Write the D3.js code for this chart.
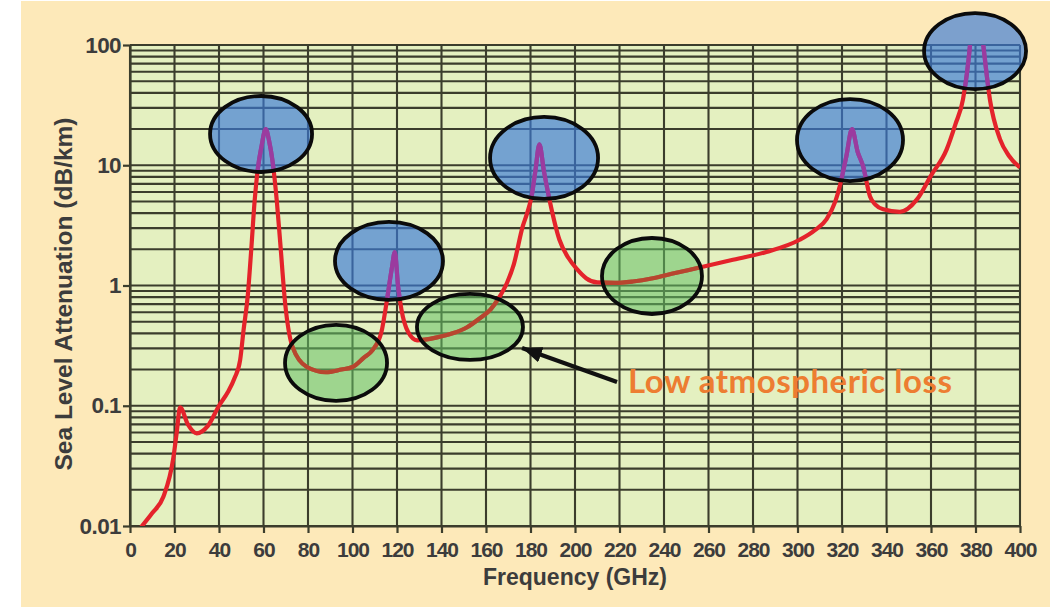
<!DOCTYPE html>
<html>
<head>
<meta charset="utf-8">
<script src="https://cdn.jsdelivr.net/npm/d3@7"></script>
<style>
  html, body { margin: 0; padding: 0; background: #fff; }
  svg { display: block; }
</style>
</head>
<body>
<svg id="chart" width="1050" height="607"></svg>
<script>
// ─── Data ─────────────────────────────────────────────────────────────────────

// Sea level attenuation curve (GHz, dB/km)
const FREQ = [5, 10, 15, 19.5, 21, 22.5, 26, 30, 35, 40,
  44, 47, 49.5, 51, 53, 54.5, 56, 57.5, 59, 61, 62.5,
  64, 66, 67.5, 69.7, 73, 79.5, 88, 95, 100, 105,
  109, 113, 115.5, 117.7, 119, 120.5, 122, 125, 129, 138,
  145, 151.5, 157, 162, 166, 169.5, 172.5, 176.5, 178.5, 180.5,
  182.2, 184, 186, 188.8, 193, 197, 201, 205, 210, 218,
  226, 235, 245, 256, 270, 286, 301, 308, 313, 317,
  319, 322, 324.5, 327, 329.5, 332.6, 335, 338.5, 346, 353.7,
  360, 367, 371, 374.4, 377.5, 380, 383.5, 386.5, 391, 395,
  400];
const ATTEN = [0.0098, 0.0128, 0.0175, 0.037, 0.06, 0.097, 0.07, 0.059, 0.068, 0.1,
  0.13, 0.17, 0.24, 0.42, 0.85, 2.0, 5.0, 9.5, 14, 20, 16,
  11, 5, 2.3, 0.72, 0.31, 0.21, 0.19, 0.2, 0.21, 0.25,
  0.29, 0.41, 0.76, 1.4, 1.9, 0.98, 0.63, 0.41, 0.35, 0.37,
  0.4, 0.45, 0.53, 0.63, 0.8, 1.06, 1.5, 3.1, 4.0, 5.5,
  9, 14.9, 9, 4.9, 2.4, 1.7, 1.36, 1.15, 1.06, 1.05,
  1.08, 1.15, 1.27, 1.41, 1.62, 1.9, 2.4, 2.9, 3.55, 5,
  6.7, 12, 20, 13, 9.8, 5.5, 4.7, 4.3, 4.1, 5.2,
  8.2, 13.5, 22, 35.5, 98, 400, 100, 35, 16.5, 12,
  9.6];

const X_TICKS       = [0, 20, 40, 60, 80, 100, 120, 140, 160, 180, 200,
                       220, 240, 260, 280, 300, 320, 340, 360, 380, 400];
const Y_TICKS       = [0.01, 0.1, 1, 10, 100];
const Y_TICK_LABELS = ["0.01", "0.1", "1", "10", "100"];

// Ring centres (GHz, dB/km)
const PEAK_RINGS   = [[58.9, 18.2], [116.4, 1.6], [186.1, 11.5], [323.6, 16.2], [379.8, 89]];
const WINDOW_RINGS = [[92.6, 0.227], [152.8, 0.452], [234.6, 1.2]];

const NOTE_TEXT  = "Low atmospheric loss";
const NOTE_AT    = [223.8, 0.1276];
const ARROW_FROM = [218.9, 0.1575];
const ARROW_TO   = [176.2, 0.302];

const X_TITLE = "Frequency (GHz)";
const Y_TITLE = "Sea Level Attenuation (dB/km)";

// ─── Layout ───────────────────────────────────────────────────────────────────

const W = 1050, H = 607;
const P = { left: 130, right: 1020, top: 45, bottom: 526 };
const PEAK_SIZES   = [[51, 38], [54, 39], [54, 41], [53, 41], [51, 38]];
const WINDOW_SIZES = [[51, 38], [53, 33], [50, 38]];
const GRID = "#3b3d2c";
const INK  = "#3c3c3c";
const FONT = '"Liberation Sans", Arial, Helvetica, sans-serif';

// ─── Draw ─────────────────────────────────────────────────────────────────────

const svg = d3.select("#chart");
const defs = svg.append("defs");

const x = d3.scaleLinear().domain([0, 400]).range([P.left, P.right]);
const y = d3.scaleLog().domain([0.01, 100]).range([P.bottom, P.top]);

// page + plot backgrounds
svg.append("rect").attr("x", 21).attr("y", 1).attr("width", W - 21).attr("height", H - 1)
  .attr("fill", "#fde9b9");
svg.append("rect").attr("x", P.left).attr("y", P.top)
  .attr("width", P.right - P.left).attr("height", P.bottom - P.top)
  .attr("fill", "#e4f0c0");

// grid
const grid = svg.append("g").attr("stroke", GRID).attr("stroke-width", 2.1);
grid.selectAll("line.h").data(y.ticks()).join("line").attr("class", "h")
  .attr("x1", P.left).attr("x2", P.right)
  .attr("y1", d => y(d)).attr("y2", d => y(d));
grid.selectAll("line.v").data(X_TICKS).join("line").attr("class", "v")
  .attr("x1", d => x(d)).attr("x2", d => x(d))
  .attr("y1", P.top).attr("y2", P.bottom);

// axes
const xAxis = svg.append("g").attr("transform", `translate(0,${P.bottom})`)
  .call(d3.axisBottom(x).tickValues(X_TICKS).tickSize(7).tickPadding(9).tickSizeOuter(0));
const yAxis = svg.append("g").attr("transform", `translate(${P.left},0)`)
  .call(d3.axisLeft(y).tickValues(Y_TICKS).tickFormat((d, i) => Y_TICK_LABELS[i])
    .tickSize(7).tickPadding(2).tickSizeOuter(0));

[xAxis, yAxis].forEach(g => {
  g.selectAll("line, path").attr("stroke", GRID).attr("stroke-width", 2.2);
  g.selectAll("text").attr("fill", INK).attr("font-family", FONT).attr("font-weight", 700);
});
xAxis.selectAll("text").attr("font-size", 21).attr("letter-spacing", -1);
yAxis.selectAll("text").attr("font-size", 22.5).attr("letter-spacing", -0.6);

// axis titles
svg.append("text").attr("x", (P.left + P.right) / 2).attr("y", 585)
  .attr("text-anchor", "middle").attr("font-family", FONT).attr("font-size", 23)
  .attr("font-weight", 700).attr("fill", INK)
  .text(X_TITLE);
svg.append("text").attr("transform", "translate(72,294) rotate(-90)")
  .attr("text-anchor", "middle").attr("font-family", FONT).attr("font-size", 24.5)
  .attr("font-weight", 700).attr("fill", INK)
  .text(Y_TITLE);

// curve
const pts  = FREQ.map((f, i) => [f, ATTEN[i]]);
const line = d3.line().x(d => x(d[0])).y(d => y(d[1])).curve(d3.curveMonotoneX);

defs.append("clipPath").attr("id", "plot-clip").append("rect")
  .attr("x", P.left).attr("y", P.top)
  .attr("width", P.right - P.left).attr("height", P.bottom - P.top);

const curveLayer = svg.append("g").attr("clip-path", "url(#plot-clip)");
curveLayer.append("path").attr("d", line(pts))
  .attr("fill", "none").attr("stroke", "#e4232b").attr("stroke-width", 4.2)
  .attr("stroke-linejoin", "round");

// rings
function ringData(centres, sizes) {
  return centres.map((c, i) => ({ cx: x(c[0]), cy: y(c[1]), rx: sizes[i][0], ry: sizes[i][1] }));
}
const peaks   = ringData(PEAK_RINGS, PEAK_SIZES);
const windows = ringData(WINDOW_RINGS, WINDOW_SIZES);

function drawRings(data, fill, opacity) {
  svg.append("g").selectAll("ellipse").data(data).join("ellipse")
    .attr("cx", d => d.cx).attr("cy", d => d.cy).attr("rx", d => d.rx).attr("ry", d => d.ry)
    .attr("fill", fill).attr("fill-opacity", opacity);
}
drawRings(peaks, "rgb(58,122,215)", 0.66);
drawRings(windows, "rgb(100,192,100)", 0.55);

// curve tinted inside the rings
function tintedCurve(id, data, colour) {
  defs.append("clipPath").attr("id", id).selectAll("ellipse").data(data).join("ellipse")
    .attr("cx", d => d.cx).attr("cy", d => d.cy).attr("rx", d => d.rx).attr("ry", d => d.ry);
  svg.append("g").attr("clip-path", "url(#plot-clip)")
    .append("g").attr("clip-path", `url(#${id})`)
    .append("path").attr("d", line(pts))
    .attr("fill", "none").attr("stroke", colour).attr("stroke-width", 4.2)
    .attr("stroke-linejoin", "round");
}
tintedCurve("peak-clip", peaks, "#9b3b9f");
tintedCurve("window-clip", windows, "#b8452f");

// ring outlines
svg.append("g").selectAll("ellipse").data(peaks.concat(windows)).join("ellipse")
  .attr("cx", d => d.cx).attr("cy", d => d.cy).attr("rx", d => d.rx).attr("ry", d => d.ry)
  .attr("fill", "none").attr("stroke", "#0b0b0b").attr("stroke-width", 3.8);

// annotation
defs.append("marker").attr("id", "head")
  .attr("viewBox", "0 0 20 16").attr("refX", 20).attr("refY", 8)
  .attr("markerWidth", 20).attr("markerHeight", 16)
  .attr("markerUnits", "userSpaceOnUse").attr("orient", "auto")
  .append("path").attr("d", "M0,0 L20,8 L0,16 z").attr("fill", "#111");

svg.append("line")
  .attr("x1", x(ARROW_FROM[0])).attr("y1", y(ARROW_FROM[1]))
  .attr("x2", x(ARROW_TO[0])).attr("y2", y(ARROW_TO[1]))
  .attr("stroke", "#111").attr("stroke-width", 4.2).attr("marker-end", "url(#head)");

svg.append("text").attr("x", x(NOTE_AT[0])).attr("y", y(NOTE_AT[1]))
  .attr("font-family", "Lato, Carlito, Calibri, sans-serif").attr("font-weight", 700)
  .attr("font-size", 33).attr("fill", "#ed7d31")
  .attr("textLength", 324).attr("lengthAdjust", "spacing")
  .text(NOTE_TEXT);
</script>
</body>
</html>
